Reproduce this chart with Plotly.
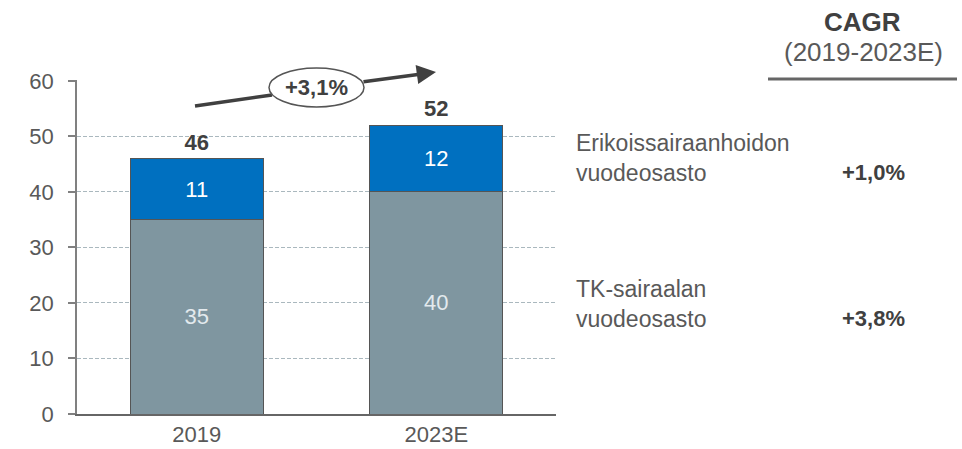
import plotly.graph_objects as go

categories = ["2019", "2023E"]
tk_values = [35, 40]
erik_values = [11, 12]
totals = [46, 52]
series_names = ["TK-sairaalan<br>vuodeosasto", "Erikoissairaanhoidon<br>vuodeosasto"]
cagr_series = ["+3,8%", "+1,0%"]
cagr_total = "+3,1%"
y_ticks = [0, 10, 20, 30, 40, 50, 60]

FONT = "Liberation Sans, Arial, sans-serif"
GRAY = "#7f96a0"
BLUE = "#0070c0"
TXT = "#595959"

fig = go.Figure()
fig.add_trace(go.Bar(
    x=categories, y=tk_values, name=series_names[0],
    marker=dict(color=GRAY, line=dict(color="#555555", width=1)),
    text=[str(v) for v in tk_values], textposition="inside", insidetextanchor="middle",
    textfont=dict(family=FONT, size=22, color="#e3eaee"), width=0.555,
))
fig.add_trace(go.Bar(
    x=categories, y=erik_values, name=series_names[1],
    marker=dict(color=BLUE, line=dict(color="#555555", width=1)),
    text=[str(v) for v in erik_values], textposition="inside", insidetextanchor="middle",
    textfont=dict(family=FONT, size=22, color="white"), width=0.555,
))
fig.add_trace(go.Scatter(
    x=categories, y=totals, mode="markers+text", text=[f"<b>{t}</b>" for t in totals],
    marker=dict(size=4, opacity=0),
    textposition="top center", textfont=dict(family=FONT, size=22, color="#404040"),
    cliponaxis=False, showlegend=False, hoverinfo="skip",
))

L, R, T, B = 77, 406, 80, 35
PW = 962 - L - R
PH = 449 - T - B

def px(xp):
    return (xp - L) / PW

def py(yp):
    return (449 - B - yp) / PH

shapes = [
    dict(type="line", xref="paper", yref="paper", x0=px(195), y0=py(106), x1=px(272), y1=py(95),
         line=dict(color="#404040", width=3.5)),
    dict(type="circle", xref="paper", yref="paper", x0=px(269), x1=px(364), y0=py(107), y1=py(68),
         fillcolor="white", line=dict(color="#555555", width=1.5), layer="above"),
    dict(type="line", xref="paper", yref="paper", x0=px(768), x1=px(957), y0=py(79), y1=py(79),
         line=dict(color="#666666", width=3)),
]

def ann(x, y, text, size, color, xanchor="center", align="center"):
    return dict(xref="paper", yref="paper", x=px(x), y=py(y), xanchor=xanchor, yanchor="middle",
                align=align, text=text, showarrow=False,
                font=dict(family=FONT, size=size, color=color))

annotations = [
    dict(xref="paper", yref="paper", x=px(436), y=py(72), ax=362 - 436, ay=82 - 72,
         axref="pixel", ayref="pixel", text="", showarrow=True, arrowhead=2, arrowsize=1.1,
         arrowwidth=3.5, arrowcolor="#404040", standoff=0, startstandoff=0),
    ann(316, 88, f"<b>{cagr_total}</b>", 22, "#404040"),
    ann(862, 22, "<b>CAGR</b>", 26, "#404040"),
    ann(863, 52, "(2019-2023E)", 26, TXT),
    ann(574, 158, series_names[1], 23, TXT, xanchor="left", align="left"),
    ann(574, 304, series_names[0], 23, TXT, xanchor="left", align="left"),
    ann(873, 172, f"<b>{cagr_series[1]}</b>", 22, "#404040"),
    ann(873, 318, f"<b>{cagr_series[0]}</b>", 22, "#404040"),
]

fig.update_layout(
    barmode="stack", width=962, height=449,
    margin=dict(l=L, r=R, t=T, b=B, pad=0, autoexpand=False),
    paper_bgcolor="white", plot_bgcolor="white",
    showlegend=False, font=dict(family=FONT, color=TXT),
    shapes=shapes, annotations=annotations,
    xaxis=dict(type="category", range=[-0.5, 1.5], showline=True, linecolor="#666666", linewidth=1.5,
               ticks="", tickfont=dict(family=FONT, size=22, color=TXT), showgrid=False,
               automargin=False, fixedrange=True),
    yaxis=dict(range=[0, 60.15], tickvals=y_ticks, showline=True, linecolor="#808080", linewidth=1.5,
               ticks="outside", ticklen=7, tickcolor="#808080", tickwidth=1.5,
               ticklabelstandoff=10,
               tickfont=dict(family=FONT, size=22, color=TXT), automargin=False,
               showgrid=True, gridcolor="#aab8be", griddash="4px,2px", gridwidth=1, zeroline=False),
)

fig.write_html("out.html", config={"displayModeBar": False},
               post_script="document.body.style.margin='0px';")
